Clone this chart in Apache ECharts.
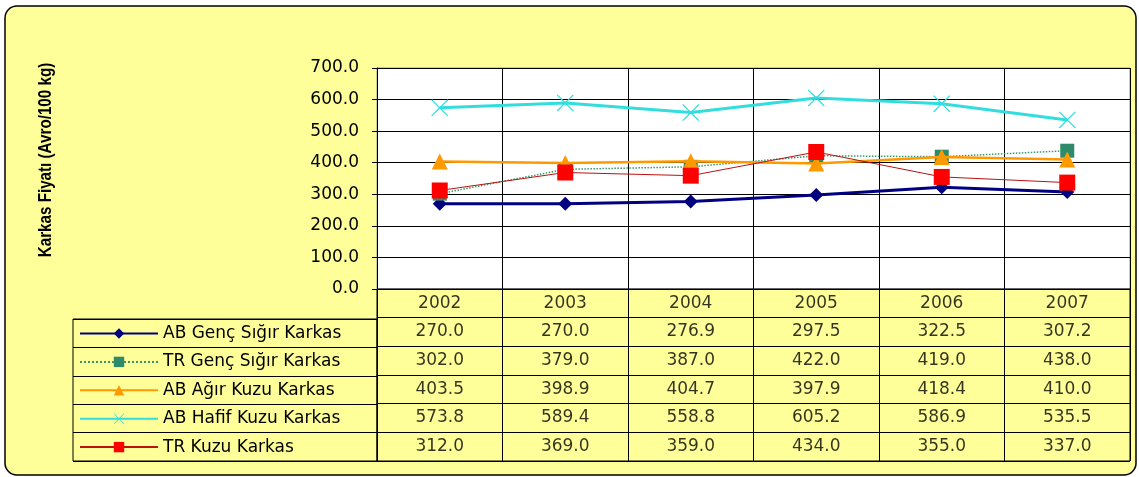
<!DOCTYPE html>
<html><head><meta charset="utf-8">
<script src="https://cdn.jsdelivr.net/npm/echarts@6/dist/echarts.min.js"></script>
<style>html,body{margin:0;padding:0;background:#fff}#c{width:1139px;height:477px}</style>
</head><body><div id="c"></div>
<script>
// ---- data ----
const years = ['2002', '2003', '2004', '2005', '2006', '2007'];
const seriesNames = ['AB Genç Sığır Karkas', 'TR Genç Sığır Karkas', 'AB Ağır Kuzu Karkas', 'AB Hafif Kuzu Karkas', 'TR Kuzu Karkas'];
const abGencSigir = [270.0, 270.0, 276.9, 297.5, 322.5, 307.2];
const trGencSigir = [302.0, 379.0, 387.0, 422.0, 419.0, 438.0];
const abAgirKuzu = [403.5, 398.9, 404.7, 397.9, 418.4, 410.0];
const abHafifKuzu = [573.8, 589.4, 558.8, 605.2, 586.9, 535.5];
const trKuzu = [312.0, 369.0, 359.0, 434.0, 355.0, 337.0];
const yMin = 0, yMax = 700, yStep = 100;
const yTitle = 'Karkas Fiyatı (Avro/100 kg)';

// ---- styling ----
const FONT = 'DejaVu Sans';
const FS = 17;
const allValues = [abGencSigir, trGencSigir, abAgirKuzu, abHafifKuzu, trKuzu];
const xSym = 'path://M0,1L1,0L10,9L19,0L20,1L11,10L20,19L19,20L10,11L1,20L0,19L9,10Z';

const styles = [
  { color: '#000080', lineColor: '#000080', width: 3, type: 'solid', symbol: 'diamond', size: 14 },
  { color: '#2E8B6A', lineColor: '#339966', width: 1.5, type: 'dotted', symbol: 'rect', size: 14 },
  { color: '#FF9900', lineColor: '#FF9900', width: 2.5, type: 'solid', symbol: 'triangle', size: 16 },
  { color: '#33DDDD', lineColor: '#33DDDD', width: 3, type: 'solid', symbol: xSym, size: 17 },
  { color: '#FF0000', lineColor: '#BB1111', width: 1, type: 'solid', symbol: 'rect', size: 16 }
];

const lineSeries = seriesNames.map((name, i) => ({
  name: name,
  type: 'line',
  xAxisIndex: 0, yAxisIndex: 0,
  data: allValues[i],
  symbol: styles[i].symbol,
  symbolSize: styles[i].size,
  showSymbol: true,
  itemStyle: { color: styles[i].color },
  lineStyle: { color: styles[i].lineColor, width: styles[i].width, type: styles[i].type },
  z: 3 + i
}));

const tableData = [];
years.forEach((y, c) => tableData.push({ value: [c, 0], label: { formatter: y } }));
allValues.forEach((arr, r) => arr.forEach((v, c) => tableData.push({ value: [c, r + 1], label: { formatter: v.toFixed(1) } })));

const chart = echarts.init(document.getElementById('c'));
chart.setOption({
  animation: false,
  backgroundColor: '#ffffff',
  textStyle: { fontFamily: FONT },
  graphic: [
    { type: 'rect', z: -10, shape: { x: 5, y: 6, width: 1131, height: 469, r: 12 },
      style: { fill: '#FFFF99', stroke: '#000', lineWidth: 1.5 } },
    { type: 'text', x: 46, y: 160, rotation: Math.PI / 2, scaleX: 0.8,
      style: { text: yTitle, font: 'bold 19px "Liberation Sans", Arial, sans-serif',
               fill: '#000', textAlign: 'center', textVerticalAlign: 'middle' } }
  ],
  grid: [
    { left: 377, top: 68, width: 753, height: 221, show: true, backgroundColor: '#ffffff', borderColor: '#999', borderWidth: 1 },
    { left: 377, top: 289, width: 753, height: 172, show: true, backgroundColor: 'transparent', borderColor: '#000', borderWidth: 1 },
    { left: 73, top: 319, width: 304, height: 142, show: true, backgroundColor: 'transparent', borderColor: '#000', borderWidth: 1 }
  ],
  legend: {
    data: seriesNames,
    orient: 'vertical',
    left: 79, top: 325,
    padding: 0,
    itemWidth: 78, itemHeight: 13,
    itemGap: 11.4,
    selectedMode: false,
    textStyle: { fontFamily: FONT, fontSize: FS, color: '#000' }
  },
  xAxis: [
    { gridIndex: 0, type: 'category', data: years, boundaryGap: true,
      axisLine: { lineStyle: { color: '#000', width: 1 } },
      axisTick: { show: false }, axisLabel: { show: false },
      splitLine: { show: true, interval: 0, lineStyle: { color: '#000', width: 1 } } },
    { gridIndex: 1, type: 'category', data: years, boundaryGap: true,
      axisLine: { show: false }, axisTick: { show: false }, axisLabel: { show: false },
      splitLine: { show: true, interval: 0, lineStyle: { color: '#000', width: 1 } } },
    { gridIndex: 2, type: 'value', show: false }
  ],
  yAxis: [
    { gridIndex: 0, type: 'value', min: yMin, max: yMax, interval: yStep,
      axisLine: { show: true, lineStyle: { color: '#000', width: 1 } },
      axisTick: { show: true, length: 5, lineStyle: { color: '#000' } },
      axisLabel: { margin: 18, color: '#000', fontSize: FS, fontFamily: FONT, formatter: v => v.toFixed(1) },
      splitLine: { show: true, lineStyle: { color: '#000', width: 1 } } },
    { gridIndex: 1, type: 'category', data: ['Yıl'].concat(seriesNames), inverse: true, boundaryGap: true,
      axisLine: { show: false }, axisTick: { show: false }, axisLabel: { show: false },
      splitLine: { show: true, interval: 0, lineStyle: { color: '#000', width: 1 } } },
    { gridIndex: 2, type: 'category', data: seriesNames, inverse: true, boundaryGap: true,
      axisLine: { show: false }, axisTick: { show: false }, axisLabel: { show: false },
      splitLine: { show: true, interval: 0, lineStyle: { color: '#000', width: 1 } } }
  ],
  series: lineSeries.concat([{
    name: 'table', type: 'scatter', xAxisIndex: 1, yAxisIndex: 1,
    symbolSize: 1, itemStyle: { color: 'rgba(0,0,0,0)' },
    silent: true,
    data: tableData,
    label: { show: true, position: 'inside', color: '#000', fontSize: FS, fontFamily: FONT }
  }])
});
</script></body></html>
